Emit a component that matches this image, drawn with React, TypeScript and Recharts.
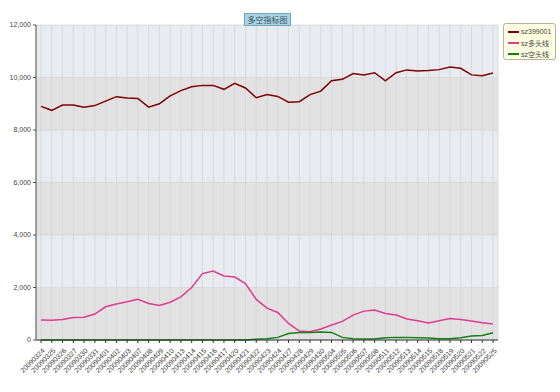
import React from 'react';
import { LineChart, Line, XAxis, YAxis, CartesianGrid } from 'recharts';

const dates = [
  '20090324', '20090325', '20090326', '20090327', '20090330', '20090331',
  '20090401', '20090402', '20090403', '20090407', '20090408', '20090409', '20090410',
  '20090413', '20090414', '20090415', '20090416', '20090417', '20090420', '20090421',
  '20090422', '20090423', '20090424', '20090427', '20090428', '20090429', '20090430',
  '20090504', '20090505', '20090506', '20090507', '20090508', '20090511', '20090512',
  '20090513', '20090514', '20090515', '20090518', '20090519', '20090520', '20090521',
  '20090522', '20090525',
];

const sz399001 = [
  8900, 8750, 8950, 8950, 8870, 8930, 9100, 9270, 9220, 9200, 8870, 9000, 9300,
  9500, 9650, 9700, 9700, 9550, 9780, 9600, 9230, 9350, 9280, 9060, 9080, 9350,
  9480, 9880, 9930, 10150, 10100, 10180, 9870, 10180, 10290, 10250, 10270, 10300,
  10400, 10350, 10100, 10070, 10170,
];

const duoTou = [
  760, 750, 785, 860, 870, 990, 1265, 1370, 1455, 1555, 1390, 1315, 1440,
  1645, 2000, 2530, 2630, 2440, 2400, 2150, 1545, 1215, 1050, 630, 340, 315,
  420, 570, 710, 950, 1100, 1140, 1010, 950, 800, 735, 645, 735, 820, 785,
  720, 660, 610,
];

const kongTou = [
  0, 0, 0, 0, 0, 0, 0, 0, 0, 0, 0, 0, 0,
  0, 0, 0, 0, 0, 0, 0, 30, 50, 100, 250, 290, 290, 300, 290, 100, 50,
  40, 40, 90, 100, 100, 90, 80, 50, 50, 90, 150, 175, 280,
];

const yTicks = [0, 2000, 4000, 6000, 8000, 10000, 12000];

const seriesNames = ['sz399001', 'sz多头线', 'sz空头线'];
const seriesColors = ['#800000', '#e23c8e', '#138013'];

const data = dates.map((d, i) => ({
  date: d,
  a: sz399001[i],
  b: duoTou[i],
  c: kongTou[i],
}));

const FONT = '"Liberation Sans", Arial, "Noto Sans CJK SC", sans-serif';

const XTick = (props: any) => {
  const { x, y, payload } = props;
  return (
    <g transform={`translate(${x + 3},${y + 5})`}>
      <text
        x={0}
        y={0}
        textAnchor="end"
        dominantBaseline="middle"
        transform="rotate(-45)"
        fontSize={7}
        fill="#3a3a3a"
        fontFamily={FONT}
      >
        {payload.value}
      </text>
    </g>
  );
};

export default function App() {
  return (
    <div style={{ position: 'absolute', left: 0, top: 0, width: 560, height: 392, background: '#fff', fontFamily: FONT }}>
      <LineChart
        width={560}
        height={392}
        data={data}
        margin={{ top: 25, right: 62, bottom: 0, left: 0 }}
      >
        <CartesianGrid
          stroke="#d4d6d9"
          strokeWidth={0.8}
          horizontalFill={['#e8ebef', '#e2e2e2']}
          fillOpacity={1}
        />
        <XAxis
          dataKey="date"
          interval={0}
          tick={<XTick />}
          tickSize={3}
          height={52}
          padding={{ left: 5, right: 5 }}
          axisLine={{ stroke: '#333' }}
          tickLine={{ stroke: '#333' }}
        />
        <YAxis
          domain={[0, 12000]}
          ticks={yTicks}
          width={36}
          tickSize={3}
          tickFormatter={(v: number) => v.toLocaleString('en-US')}
          tick={{ fontSize: 7, fill: '#444', fontFamily: FONT }}
          axisLine={{ stroke: '#555' }}
          tickLine={{ stroke: '#555' }}
        />
        <YAxis
          yAxisId="right"
          orientation="right"
          domain={[0, 12000]}
          width={0}
          tick={false}
          tickLine={false}
          axisLine={{ stroke: '#c4c4c4' }}
        />
        <Line dataKey="a" stroke={seriesColors[0]} strokeWidth={1.5} dot={false} isAnimationActive={false} />
        <Line dataKey="b" stroke={seriesColors[1]} strokeWidth={1.5} dot={false} isAnimationActive={false} />
        <Line dataKey="c" stroke={seriesColors[2]} strokeWidth={1.5} dot={false} isAnimationActive={false} />
      </LineChart>
      <div
        style={{
          position: 'absolute',
          left: 244,
          top: 13,
          width: 45,
          height: 11,
          background: '#a9d4e4',
          border: '1px solid #6fa7bb',
          fontSize: 8,
          lineHeight: '11px',
          textAlign: 'center',
          color: '#3a5560',
          fontFamily: '"Noto Sans CJK SC", sans-serif',
        }}
      >
        多空指标图
      </div>
      <div
        style={{
          position: 'absolute',
          left: 503,
          top: 23,
          width: 53,
          height: 37,
          background: '#ffffe2',
          border: '1px solid #b5b5a5',
          borderRadius: 3,
          boxSizing: 'border-box',
          paddingTop: 2,
        }}
      >
        {seriesNames.map((n, i) => (
          <div key={n} style={{ display: 'flex', alignItems: 'center', height: 11, paddingLeft: 4 }}>
            <div style={{ width: 11, height: 2, background: seriesColors[i], marginRight: 2 }} />
            <span style={{ fontSize: 7, color: '#444', fontFamily: FONT, whiteSpace: 'nowrap' }}>{n}</span>
          </div>
        ))}
      </div>
    </div>
  );
}
